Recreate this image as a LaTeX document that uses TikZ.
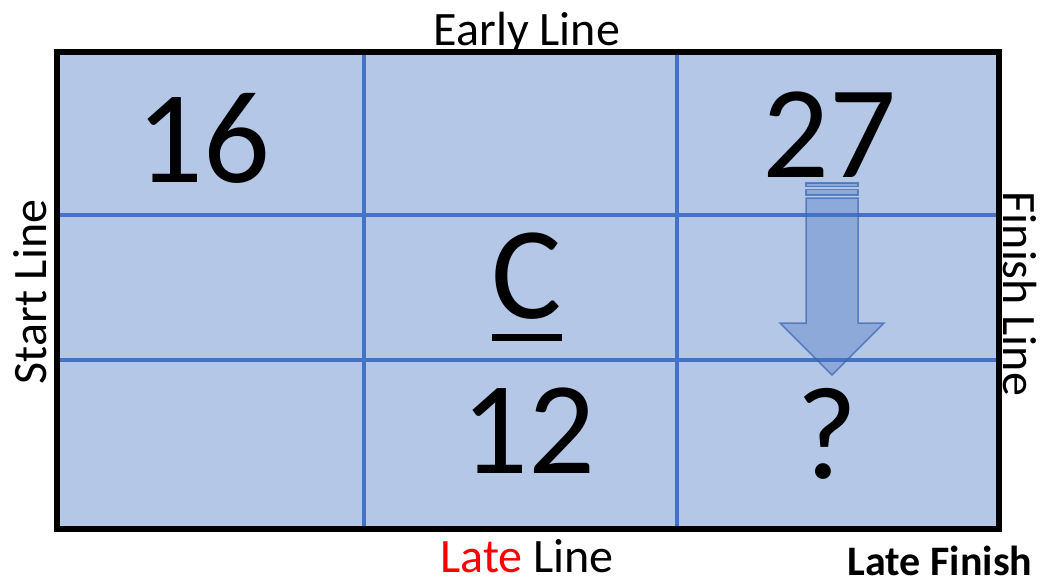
\documentclass[tikz,border=0pt]{standalone}
\usepackage{fontspec}
\setmainfont{Carlito}
\definecolor{cellfill}{HTML}{B4C7E7}
\definecolor{gridblue}{HTML}{4472C4}
\definecolor{arrowedge}{HTML}{3A64B0}
\begin{document}
\begin{tikzpicture}[x=1pt,y=-1pt,
  big/.style={inner sep=0pt,anchor=base,font=\fontsize{132}{132}\selectfont},
  lbl/.style={inner sep=0pt,font=\fontsize{48}{48}\selectfont},
  gridline/.style={draw=gridblue,line width=4.5pt},
  arrowshape/.style={fill=gridblue,fill opacity=0.35,draw=arrowedge,draw opacity=0.7,line width=1.5pt,line join=miter}]
\useasboundingbox (0,0) rectangle (1041,584);
% cell area
\fill[cellfill] (57,52) rectangle (999,529);
% grid
\coordinate (v1t) at (364,52); \coordinate (v1b) at (364,529);
\coordinate (v2t) at (677,52); \coordinate (v2b) at (677,529);
\coordinate (h1l) at (57,215); \coordinate (h1r) at (999,215);
\coordinate (h2l) at (57,360); \coordinate (h2r) at (999,360);
\draw[gridline] (v1t) -- (v1b);
\draw[gridline] (v2t) -- (v2b);
\draw[gridline] (h1l) -- (h1r);
\draw[gridline] (h2l) -- (h2r);
% outer border
\draw[line width=5.5pt,line join=miter] (57,52) rectangle (999,529);
% cell texts
\node[big] (es) at (203,182) {16};
\node[big] (ef) at (829,177) {27};
\node[big] (act) at (527,318) {C};
\node[big] (dur) at (528,473) {12};
\node[big] (lf) at (827,478) {?};
\coordinate (ulA) at (492,337.5); \coordinate (ulB) at (562,337.5);
\draw[line width=7pt] (ulA) -- (ulB);
% striped arrow
\path[arrowshape] (806,183) rectangle (858,186.5);
\path[arrowshape] (806,189.5) rectangle (858,195);
\path[arrowshape] (806,198) -- (858,198) -- (858,323) -- (884,323) -- (832,375) -- (780,323) -- (806,323) -- cycle;
% outside labels
\node[lbl,anchor=base] (early) at (527,45) {Early Line};
\node[lbl,anchor=base] (late) at (527,572) {\textcolor{red}{Late} Line};
\node[lbl,anchor=base,font=\fontsize{42}{42}\selectfont\bfseries] (lfin) at (940,575) {Late Finish};
\node[lbl,anchor=base,rotate=90] (start) at (46,292) {Start Line};
\node[lbl,anchor=base,rotate=-90] (finish) at (1003,294) {Finish Line};
\end{tikzpicture}
\end{document}
